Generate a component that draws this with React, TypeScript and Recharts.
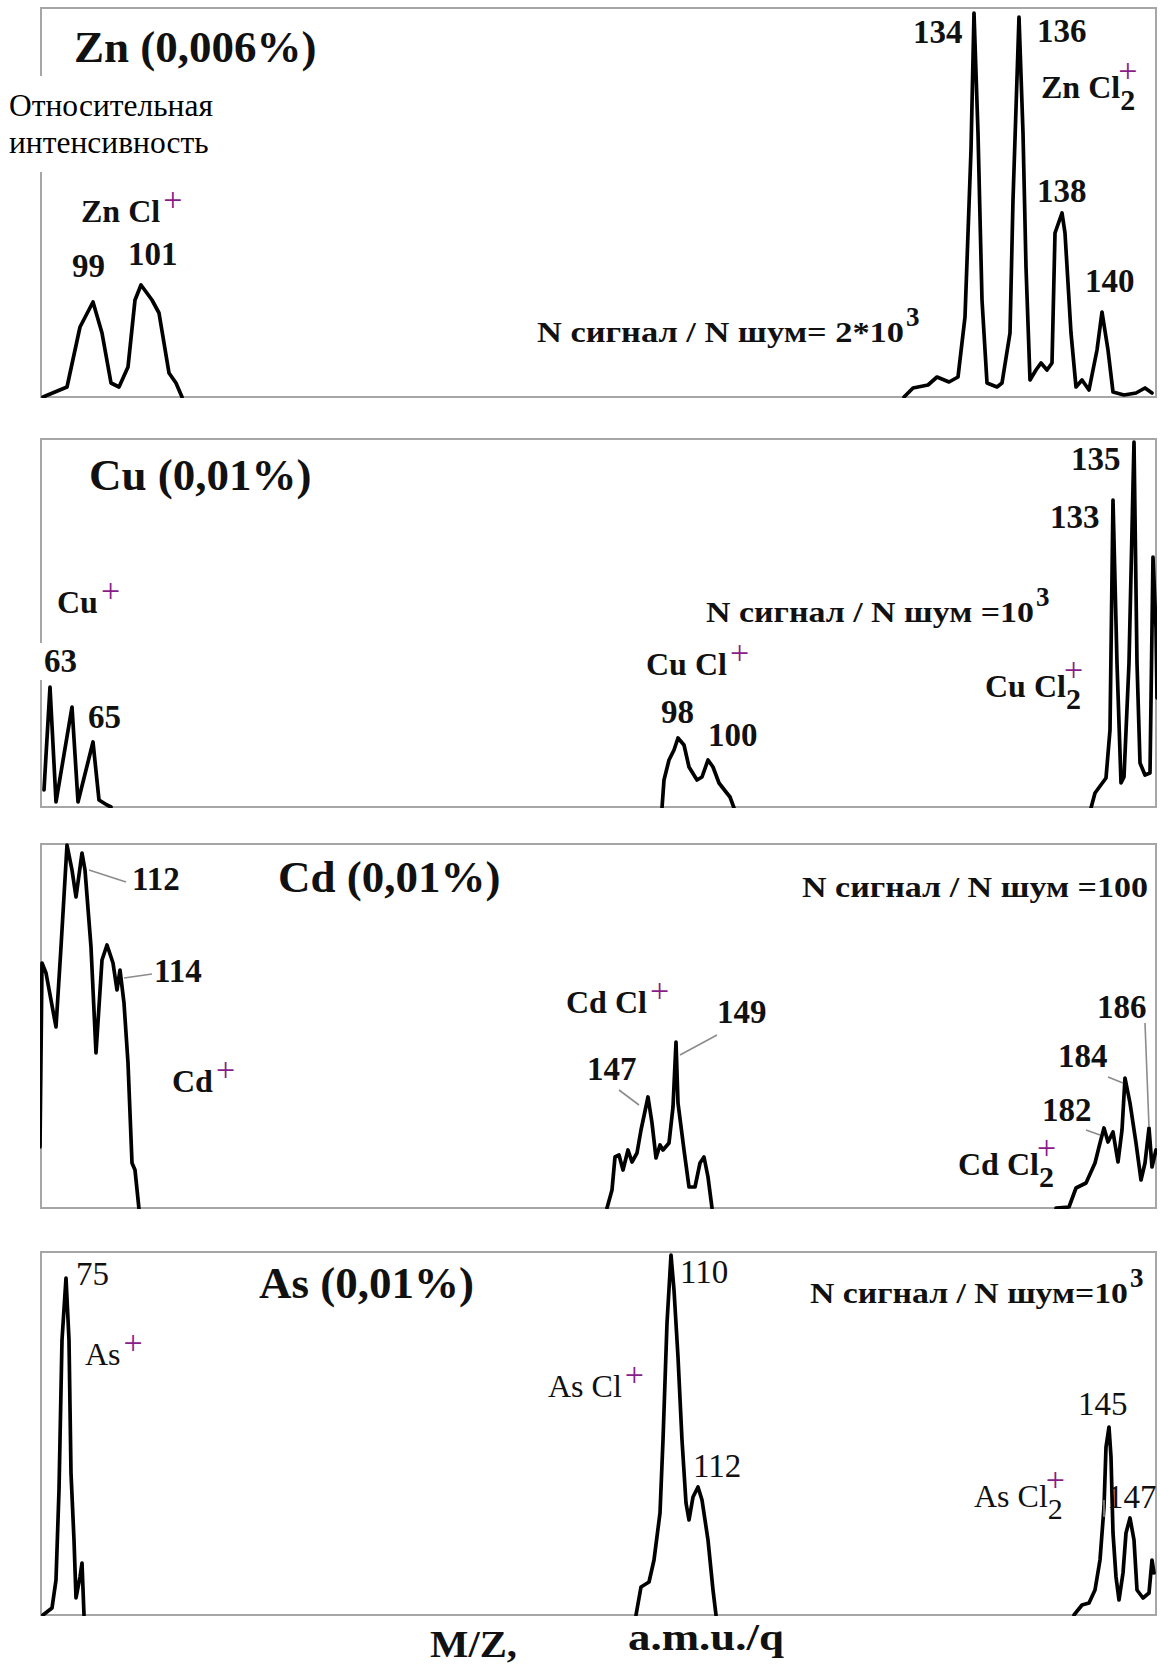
import React from "react";
import { LineChart, Line, XAxis, YAxis, ReferenceDot, ReferenceLine } from "recharts";

// scan channel vs. relative intensity (arbitrary units)
const ZN_CL = [[3,1],[27,11],[40,71],[53,96],[62,65],[71,15],[79,11],[88,31],[95,98],[101,113],[112,98],[119,85],[129,25],[136,15],[142,1]];
const ZN_CL2 = [[864,1],[873,10],[888,13],[897,21],[909,16],[918,21],[925,81],[931,248],[934,385],[938,265],[942,98],[947,15],[957,11],[962,15],[970,65],[973,198],[979,381],[983,265],[986,131],[990,18],[996,28],[1001,35],[1007,28],[1012,35],[1015,165],[1022,185],[1025,165],[1031,65],[1036,11],[1042,18],[1049,8],[1057,48],[1062,86],[1068,48],[1073,6],[1084,3],[1096,5],[1105,10],[1112,5]];

const CU = [[4,18],[10,121],[16,6],[32,101],[38,6],[53,66],[59,8],[67,3],[71,1]];
const CU_CL = [[622,0],[624,28],[629,48],[634,58],[638,70],[644,63],[649,41],[657,28],[662,31],[668,48],[673,41],[679,25],[686,16],[690,11],[694,0]];
const CU_CL2 = [[1051,0],[1055,15],[1066,30],[1070,78],[1073,308],[1077,145],[1081,25],[1084,31],[1089,145],[1094,366],[1097,145],[1100,45],[1105,33],[1110,35],[1113,251],[1116,180],[1117,110]];

const CD = [[0,62],[2,246],[6,236],[16,182],[21,262],[27,364],[32,339],[36,312],[42,356],[45,339],[51,262],[56,156],[62,249],[67,264],[73,246],[77,219],[80,239],[84,206],[88,146],[92,46],[95,39],[99,0]];
const CD_CL = [[567,1],[572,19],[575,52],[579,54],[583,39],[588,59],[592,47],[597,56],[601,79],[608,112],[612,86],[616,51],[620,64],[623,59],[629,66],[633,102],[636,167],[638,106],[644,59],[649,22],[655,22],[660,46],[664,52],[668,32],[672,1]];
const CD_CL2 = [[1016,1],[1029,2],[1036,21],[1046,26],[1055,46],[1060,66],[1064,81],[1068,67],[1073,77],[1078,47],[1082,79],[1085,131],[1090,106],[1096,66],[1101,29],[1105,46],[1109,81],[1112,42],[1116,59]];

const AS = [[3,1],[12,8],[16,36],[19,126],[22,276],[26,338],[29,276],[31,143],[34,76],[36,18],[40,39],[42,53],[44,1]];
const AS_CL = [[596,1],[601,29],[609,34],[614,56],[620,103],[623,176],[627,293],[631,361],[634,326],[638,259],[642,176],[646,113],[649,96],[653,119],[658,129],[662,116],[668,76],[673,26],[676,1]];
const AS_CL2 = [[1034,1],[1042,11],[1049,13],[1055,26],[1060,56],[1064,109],[1066,169],[1069,189],[1071,159],[1073,83],[1076,39],[1079,16],[1083,43],[1086,83],[1090,98],[1094,76],[1097,26],[1103,18],[1109,23],[1112,56],[1114,43]];

type Note = { kind: "title" | "peak" | "ion" | "sn"; x: number; y: number; text: string; sub?: string; sup?: string; len?: number; bg?: boolean };

const ZN_NOTES: Note[] = [
  { kind: "title", x: 34, y: 336, text: "Zn (0,006%)" },
  { kind: "ion", x: 41, y: 176, text: "Zn Cl", sup: "+" },
  { kind: "peak", x: 32, y: 121, text: "99" },
  { kind: "peak", x: 88, y: 133, text: "101" },
  { kind: "peak", x: 873, y: 355, text: "134" },
  { kind: "peak", x: 997, y: 356, text: "136" },
  { kind: "ion", x: 1001, y: 300, text: "Zn Cl", sub: "2", sup: "+" },
  { kind: "peak", x: 997, y: 196, text: "138" },
  { kind: "peak", x: 1045, y: 106, text: "140" },
  { kind: "sn", x: 497, y: 56, text: "N сигнал / N шум= 2*10", sup: "3", len: 367 },
];
const CU_NOTES: Note[] = [
  { kind: "title", x: 49, y: 318, text: "Cu (0,01%)" },
  { kind: "ion", x: 17, y: 195, text: "Cu", sup: "+" },
  { kind: "peak", x: 4, y: 136, text: "63", bg: true },
  { kind: "peak", x: 48, y: 80, text: "65" },
  { kind: "ion", x: 606, y: 133, text: "Cu Cl", sup: "+" },
  { kind: "peak", x: 621, y: 85, text: "98" },
  { kind: "peak", x: 668, y: 62, text: "100" },
  { kind: "sn", x: 666, y: 186, text: "N сигнал / N шум =10", sup: "3", len: 328 },
  { kind: "ion", x: 945, y: 111, text: "Cu Cl", sub: "2", sup: "+" },
  { kind: "peak", x: 1010, y: 280, text: "133" },
  { kind: "peak", x: 1031, y: 338, text: "135" },
];
const CD_NOTES: Note[] = [
  { kind: "peak", x: 92, y: 319, text: "112" },
  { kind: "peak", x: 114, y: 227, text: "114" },
  { kind: "title", x: 238, y: 317, text: "Cd (0,01%)" },
  { kind: "ion", x: 132, y: 117, text: "Cd", sup: "+" },
  { kind: "sn", x: 762, y: 312, text: "N сигнал / N шум =100", len: 346 },
  { kind: "ion", x: 526, y: 196, text: "Cd Cl", sup: "+" },
  { kind: "peak", x: 677, y: 186, text: "149" },
  { kind: "peak", x: 547, y: 129, text: "147" },
  { kind: "peak", x: 1057, y: 191, text: "186" },
  { kind: "peak", x: 1018, y: 142, text: "184" },
  { kind: "peak", x: 1002, y: 88, text: "182" },
  { kind: "ion", x: 918, y: 34, text: "Cd Cl", sub: "2", sup: "+" },
];
const AS_NOTES: Note[] = [
  { kind: "peak", x: 36, y: 331, text: "75" },
  { kind: "ion", x: 45, y: 251, text: "As", sup: "+" },
  { kind: "title", x: 219, y: 318, text: "As (0,01%)" },
  { kind: "peak", x: 640, y: 333, text: "110" },
  { kind: "ion", x: 508, y: 219, text: "As Cl", sup: "+" },
  { kind: "peak", x: 653, y: 139, text: "112" },
  { kind: "sn", x: 770, y: 313, text: "N сигнал / N шум=10", sup: "3", len: 318 },
  { kind: "peak", x: 1038, y: 201, text: "145" },
  { kind: "peak", x: 1067, y: 108, text: "147" },
  { kind: "ion", x: 934, y: 109, text: "As Cl", sub: "2", sup: "+" },
];

const CD_LEADERS = [[49,339,86,327],[84,231,112,235],[640,154,677,174],[579,119,599,104],[1068,132,1083,126],[1046,79,1060,74],[1105,186,1109,82]];
const AS_LEADERS = [[1064,116,1064,99]];

const SERIF = '"Liberation Serif", "Times New Roman", serif';
const INK = "#111";
const PURPLE = "#8a1c8a";
const BOX_LEFT = 40;
const BOX_W = 1117;

const pts = (a: number[][]) => a.map(([x, y]) => ({ x, y }));

function NoteMark({ n, cx, cy, thin }: { n: Note; cx: number; cy: number; thin?: boolean }) {
  const weight = thin ? "normal" : "bold";
  if (n.kind === "title") {
    return <text x={cx} y={cy} fontFamily={SERIF} fontSize={45} fontWeight="bold" fill={INK}>{n.text}</text>;
  }
  if (n.kind === "peak") {
    return (
      <g>
        {n.bg && <rect x={cx - 4} y={cy - 29} width={40} height={37} fill="#fff" />}
        <text x={cx} y={cy} fontFamily={SERIF} fontSize={33} fontWeight={weight} fill={INK}>{n.text}</text>
      </g>
    );
  }
  if (n.kind === "ion") {
    return (
      <text x={cx} y={cy} fontFamily={SERIF} fontSize={32} fontWeight={weight} fill={INK}>
        {n.text}
        {n.sub && <tspan dy={12} fontSize={30}>{n.sub}</tspan>}
        {n.sup && (
          <tspan dx={n.sub ? -17 : 3} dy={n.sub ? -28 : -11} fontSize={34} fontWeight="normal" fill={PURPLE}>{n.sup}</tspan>
        )}
      </text>
    );
  }
  const len = n.len ?? 300;
  return (
    <g>
      <text x={cx} y={cy} fontFamily={SERIF} fontSize={30} fontWeight="bold" fill={INK} textLength={len} lengthAdjust="spacingAndGlyphs">{n.text}</text>
      {n.sup && <text x={cx + len + 2} y={cy - 16} fontFamily={SERIF} fontSize={27} fontWeight="bold" fill={INK}>{n.sup}</text>}
    </g>
  );
}

function Panel({ top, height, series, notes, leaders = [], thin }: { top: number; height: number; series: number[][][]; notes: Note[]; leaders?: number[][]; thin?: boolean }) {
  return (
    <div style={{ position: "absolute", left: BOX_LEFT, top, width: BOX_W, height }}>
      <div style={{ position: "absolute", left: 0, top: 0, width: BOX_W, height, border: "2px solid #a6a6a6", boxSizing: "border-box" }} />
      <div style={{ position: "absolute", left: 0, top: 0 }}>
        <LineChart width={BOX_W} height={height} margin={{ top: 0, right: 0, bottom: 0, left: 0 }}>
          <XAxis type="number" dataKey="x" domain={[0, BOX_W]} allowDataOverflow hide />
          <YAxis type="number" domain={[0, height]} allowDataOverflow hide />
          {series.map((s, i) => (
            <Line key={i} data={pts(s)} dataKey="y" type="linear" dot={false} stroke="#000" strokeWidth={3.7} strokeLinejoin="round" strokeLinecap="round" isAnimationActive={false} />
          ))}
          {leaders.map((l, i) => (
            <ReferenceLine key={"l" + i} segment={[{ x: l[0], y: l[1] }, { x: l[2], y: l[3] }]} stroke="#8c8c8c" strokeWidth={1.6} />
          ))}
          {notes.map((n, i) => (
            <ReferenceDot key={"n" + i} x={n.x} y={n.y} r={0} shape={(p: any) => <NoteMark n={n} cx={p.cx} cy={p.cy} thin={thin} />} />
          ))}
        </LineChart>
      </div>
    </div>
  );
}

export default function App() {
  return (
    <div style={{ position: "absolute", left: 0, top: 0, width: 1160, height: 1667, background: "#fff", fontFamily: SERIF, overflow: "hidden" }}>
      <Panel top={7} height={391} series={[ZN_CL, ZN_CL2]} notes={ZN_NOTES} />
      <Panel top={438} height={370} series={[CU, CU_CL, CU_CL2]} notes={CU_NOTES} />
      <Panel top={843} height={366} series={[CD, CD_CL, CD_CL2]} notes={CD_NOTES} leaders={CD_LEADERS} />
      <Panel top={1251} height={365} series={[AS, AS_CL, AS_CL2]} notes={AS_NOTES} leaders={AS_LEADERS} thin />
      <div style={{ position: "absolute", left: 0, top: 76, width: 226, height: 96, background: "#fff", color: "#000", fontSize: 31.5, lineHeight: "37px", paddingTop: 11, paddingLeft: 9, boxSizing: "border-box", whiteSpace: "nowrap" }}>
        Относительная
        <br />
        интенсивность
      </div>
      <svg width={1160} height={50} style={{ position: "absolute", left: 0, top: 1617 }}>
        <text x={430} y={40} fontFamily={SERIF} fontSize={37} fontWeight="bold" fill={INK} textLength={87} lengthAdjust="spacingAndGlyphs">M/Z,</text>
        <text x={628} y={33} fontFamily={SERIF} fontSize={37} fontWeight="bold" fill={INK} textLength={156} lengthAdjust="spacingAndGlyphs">a.m.u./q</text>
      </svg>
    </div>
  );
}
